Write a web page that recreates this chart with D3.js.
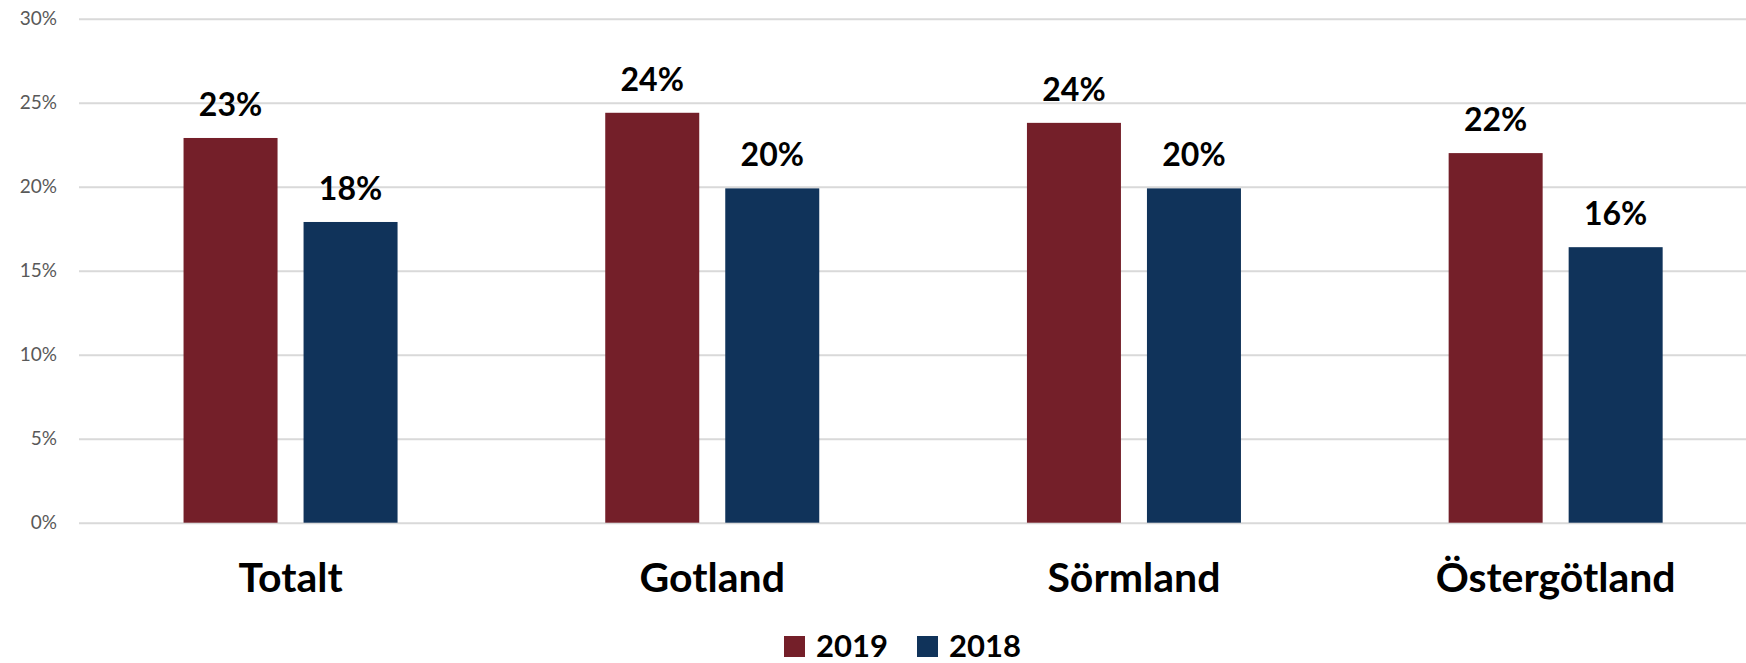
<!DOCTYPE html>
<html>
<head>
<meta charset="utf-8">
<script src="https://cdn.jsdelivr.net/npm/d3@7"></script>
<style>
  body { margin: 0; background: #fff; }
  svg text { font-family: Lato, "Open Sans", sans-serif; }
</style>
</head>
<body>
<div id="chart"></div>
<script>
const categories = ["Totalt", "Gotland", "Sörmland", "Östergötland"]
const years = ["2019", "2018"]
const values2019 = [22.9, 24.4, 23.8, 22.0]
const values2018 = [17.9, 19.9, 19.9, 16.4]
const yTicks = [0, 5, 10, 15, 20, 25, 30]
const colors = { "2019": "#741f29", "2018": "#10335a" }

const width = 1746, height = 663

const svg = d3.select("#chart").append("svg")
    .attr("width", width)
    .attr("height", height)

// group band, a bit wider than the window like the original
const x0 = d3.scaleBand()
    .domain(categories)
    .range([79.7, 1766.5])
    .paddingInner(0.4925)
    .paddingOuter(0.24625)

const x1 = d3.scaleBand()
    .domain(years)
    .range([0, x0.bandwidth()])
    .paddingInner(0.2167)

const y = d3.scaleLinear()
    .domain([0, 30])
    .range([522.7, 18.7])

// gridlines + tick labels
const yAxis = d3.axisLeft(y)
    .tickValues(yTicks)
    .tickSize(-(width - 79))
    .tickFormat(d => d + "%")

svg.append("g")
    .attr("transform", "translate(79,0)")
    .call(yAxis)
    .call(g => g.select(".domain").remove())
    .call(g => g.selectAll(".tick line").attr("stroke", "#d9d9d9").attr("stroke-width", 2))
    .call(g => g.selectAll(".tick text")
        .attr("x", -22)
        .attr("fill", "#595959")
        .attr("font-size", 19)
        .style("font-family", "Lato, sans-serif"))

const rows = categories.map((c, i) => ({ cat: c, "2019": values2019[i], "2018": values2018[i] }))

const groups = svg.append("g")
    .selectAll("g")
    .data(rows)
    .join("g")
    .attr("transform", d => `translate(${x0(d.cat)},0)`)

groups.selectAll("rect")
    .data(d => years.map(k => ({ key: k, value: d[k] })))
    .join("rect")
    .attr("x", d => x1(d.key))
    .attr("y", d => y(d.value))
    .attr("width", x1.bandwidth())
    .attr("height", d => y(0) - y(d.value))
    .attr("fill", d => colors[d.key])

groups.selectAll("text.val")
    .data(d => years.map(k => ({ key: k, value: d[k] })))
    .join("text")
    .attr("class", "val")
    .attr("x", d => x1(d.key) + x1.bandwidth() / 2)
    .attr("y", d => y(d.value) - 22)
    .attr("text-anchor", "middle")
    .attr("font-size", 32)
    .attr("font-weight", "bold")
    .attr("fill", "#000")
    .text(d => Math.round(d.value) + "%")

// category labels
svg.append("g")
    .selectAll("text")
    .data(categories)
    .join("text")
    .attr("x", d => x0(d) + x0.bandwidth() / 2)
    .attr("y", 592)
    .attr("text-anchor", "middle")
    .attr("font-size", 41)
    .attr("font-weight", "bold")
    .attr("fill", "#000")
    .text(d => d)

// legend
const legend = svg.append("g")
    .selectAll("g")
    .data(years)
    .join("g")
    .attr("transform", (d, i) => `translate(${784 + i * 133},636)`)

legend.append("rect")
    .attr("width", 21)
    .attr("height", 21)
    .attr("fill", d => colors[d])

legend.append("text")
    .attr("x", 32)
    .attr("y", 21)
    .attr("font-size", 31)
    .attr("font-weight", "bold")
    .attr("fill", "#000")
    .text(d => d)
</script>
</body>
</html>
